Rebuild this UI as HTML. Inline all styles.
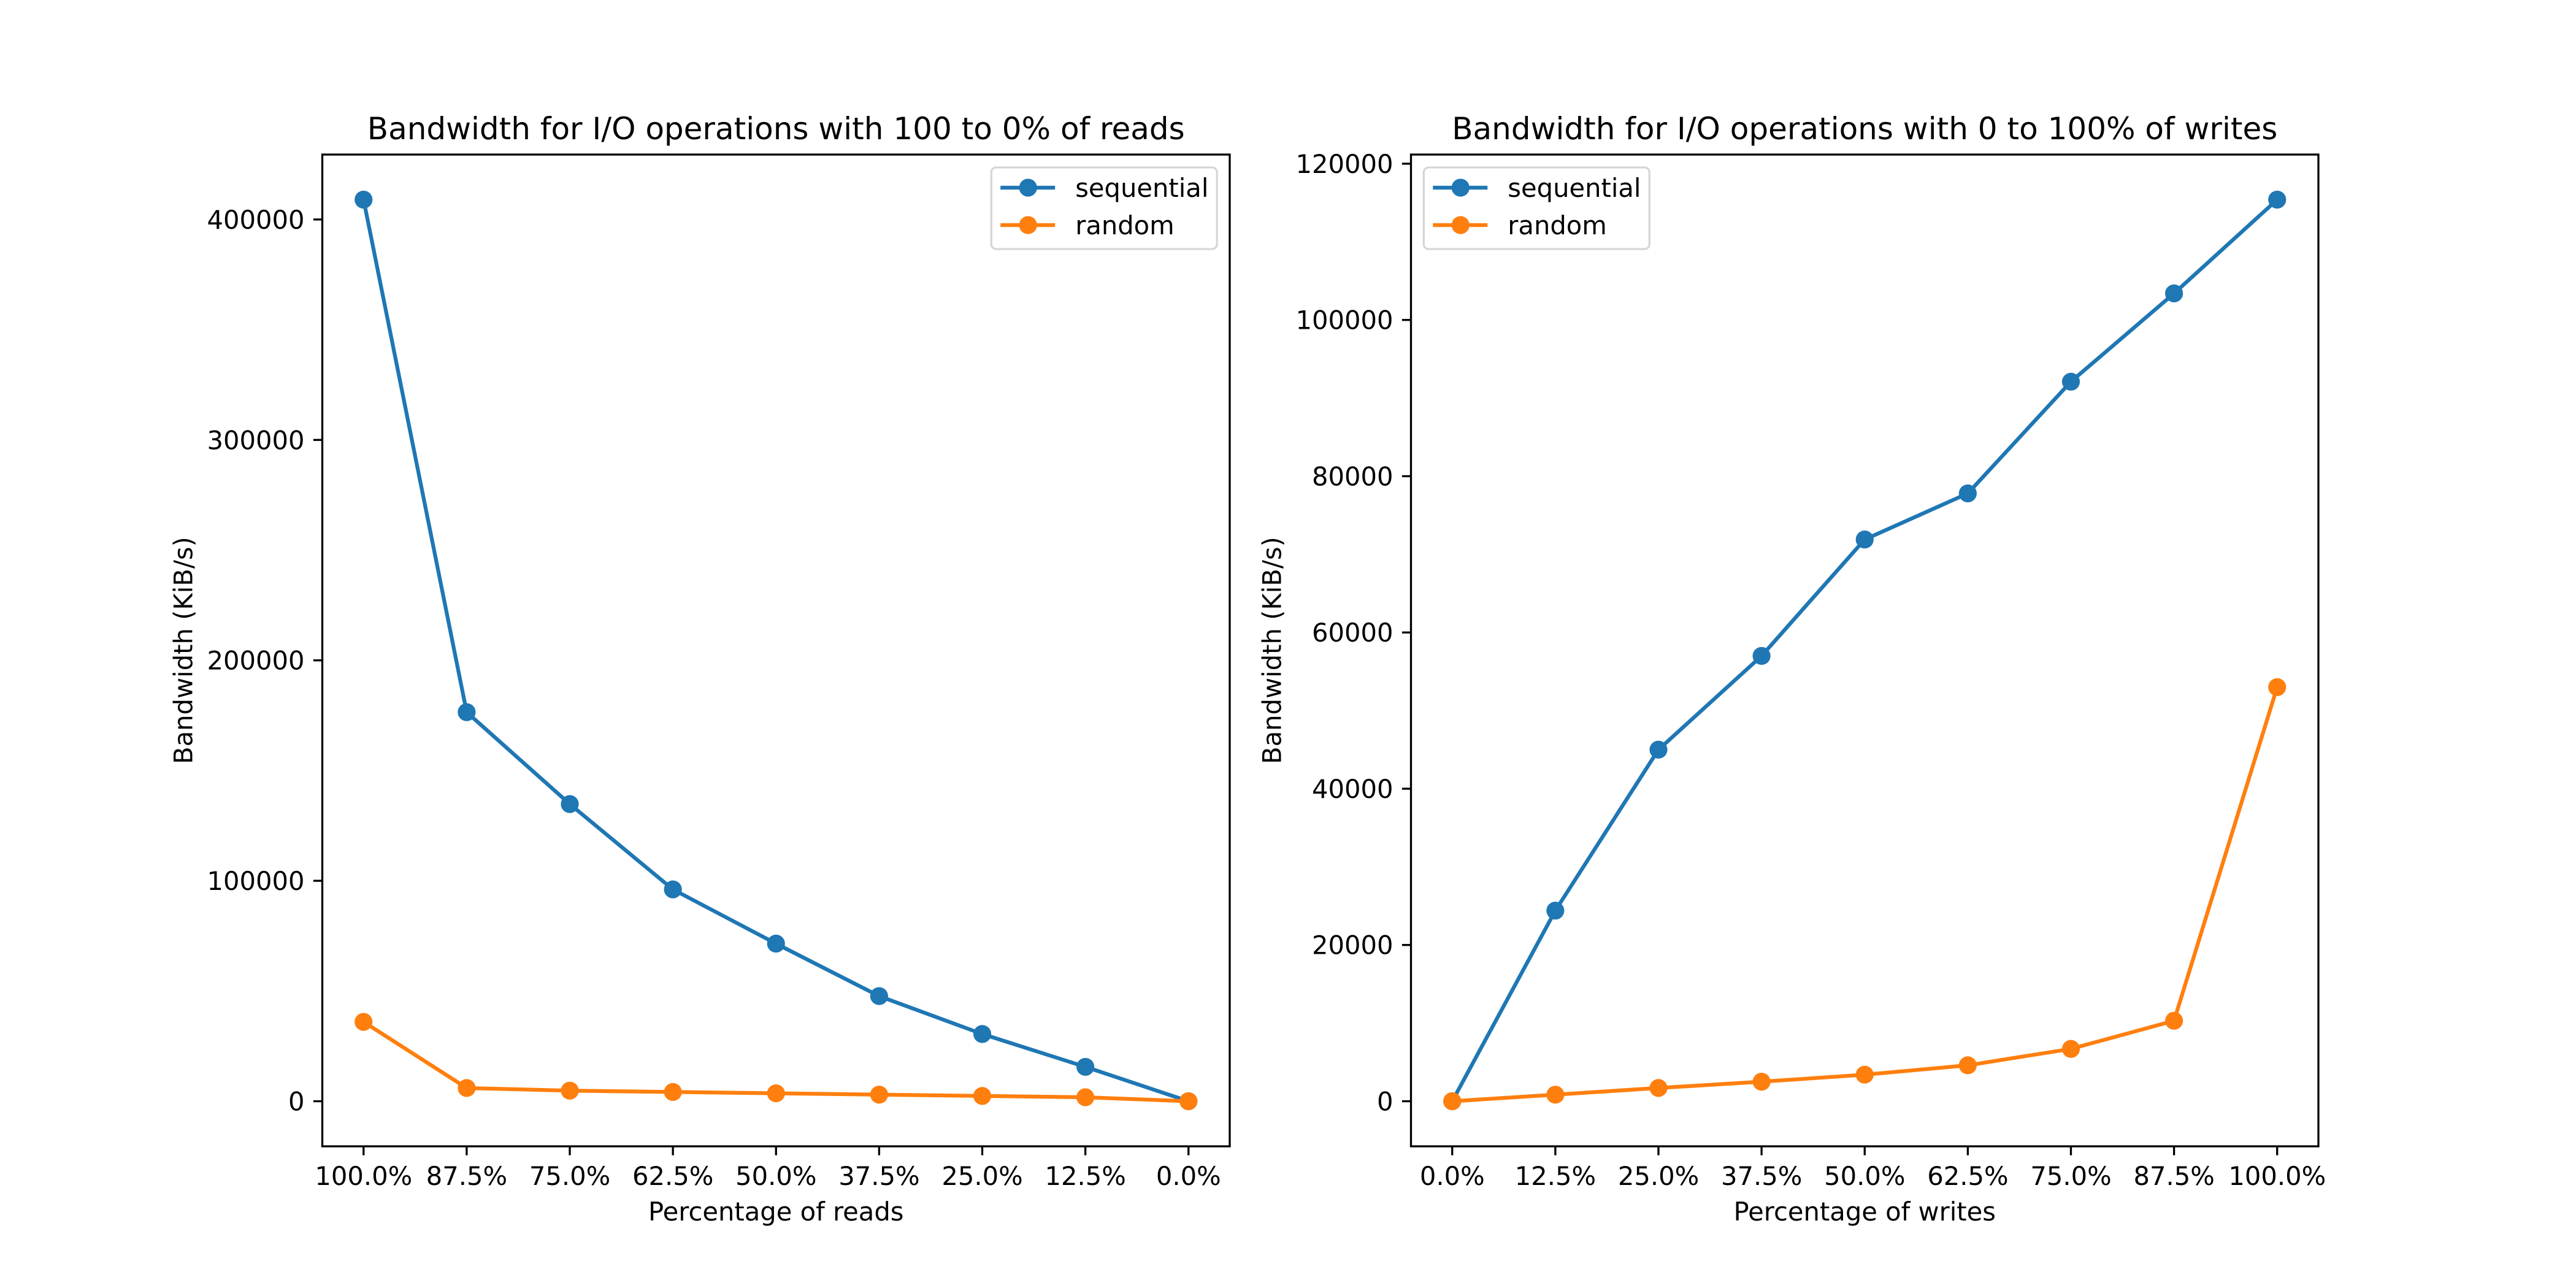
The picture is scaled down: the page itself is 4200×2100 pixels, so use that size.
<!DOCTYPE html>
<html><head><meta charset="utf-8"><style>
html,body{margin:0;padding:0;background:#fff;}
svg{display:block;font-family:"DejaVu Sans","Liberation Sans",sans-serif;}
</style></head><body>
<svg id="fig" width="4200" height="2100" viewBox="0 0 4200 2100" xmlns="http://www.w3.org/2000/svg">
<rect width="4200" height="2100" fill="#fff"/>
<g id="left"></g>
<g id="right"></g>
</svg>
<script>
const readCategories = ["100.0%","87.5%","75.0%","62.5%","50.0%","37.5%","25.0%","12.5%","0.0%"];
const readSequential = [409000,176500,134800,96100,71500,47700,30500,15600,0];
const readRandom = [36000,6000,4800,4200,3600,3000,2400,1800,0];
const readTicks = [0,100000,200000,300000,400000];
const writeCategories = ["0.0%","12.5%","25.0%","37.5%","50.0%","62.5%","75.0%","87.5%","100.0%"];
const writeSequential = [0,24400,45000,57000,71900,77800,92100,103400,115400];
const writeRandom = [0,840,1700,2500,3400,4600,6700,10300,53000];
const writeTicks = [0,20000,40000,60000,80000,100000,120000];

const NS="http://www.w3.org/2000/svg";
function mk(parent,tag,attrs,text){const e=document.createElementNS(NS,tag);for(const k in attrs)e.setAttribute(k,attrs[k]);if(text!==undefined)e.textContent=text;parent.appendChild(e);return e;}

function drawChart(g,x0,title,xlabel,cats,seq,rnd,ticks,legendLeft){
  const y0=252,w=1479.5,h=1617;
  const all=seq.concat(rnd);
  const mn=Math.min(...all),mx=Math.max(...all),rg=mx-mn;
  const lo=mn-0.05*rg,hi=mx+0.05*rg;
  const n=cats.length;
  const xs=i=>x0+(i-(-0.05*(n-1)))/((n-1)*1.1)*w;
  const ys=v=>y0+h-(v-lo)/(hi-lo)*h;
  let t=mk(g,'text',{x:x0+w/2,y:227,'text-anchor':'middle','font-size':50,fill:'#000'},title);
  
  
  // ticks
  cats.forEach((c,i)=>{
    const x=xs(i);
    const l=mk(g,'line',{x1:x,x2:x,y1:y0+h,y2:y0+h+14.6,stroke:'#000','stroke-width':3.3});
    
    
    const tl=mk(g,'text',{x:x,y:1932,'text-anchor':'middle','font-size':41.67,fill:'#000'},c);
    
    
  });
  ticks.forEach(v=>{
    const y=ys(v);
    const l=mk(g,'line',{x1:x0-14.6,x2:x0,y1:y,y2:y,stroke:'#000','stroke-width':3.3});
    
    
    const tl=mk(g,'text',{x:x0-29,y:y+15,'text-anchor':'end','font-size':41.67,fill:'#000'},String(v));
    
    
  });
  const xl=mk(g,'text',{x:x0+w/2,y:1990,'text-anchor':'middle','font-size':41.67,fill:'#000'},xlabel);
  
  
  const yl=mk(g,'text',{x:0,y:0,'text-anchor':'middle','font-size':41.67,fill:'#000',transform:`translate(${x0-212},${y0+h/2}) rotate(-90)`},'Bandwidth (KiB/s)');
  
  
  // series
  [[seq,'#1f77b4','sequential'],[rnd,'#ff7f0e','random']].forEach(([d,col,nm])=>{
    const p=mk(g,'polyline',{points:d.map((v,i)=>xs(i)+','+ys(v)).join(' '),fill:'none',stroke:col,'stroke-width':6.25,'stroke-linejoin':'round','stroke-linecap':'square'});
    
    
    d.forEach((v,i)=>{
      const c=mk(g,'circle',{cx:xs(i),cy:ys(v),r:14.6,fill:col});
      
      
    });
  });
  // frame
  const fr=mk(g,'rect',{x:x0,y:y0,width:w,height:h,fill:'none',stroke:'#000','stroke-width':3.3});
  
  
  // legend
  const lx=legendLeft?x0+20.8:x0+w-20.8-368;
  const lg=mk(g,'g',{});
  
  
  mk(lg,'rect',{x:lx,y:273,width:368,height:133,rx:8,fill:'#fff','fill-opacity':0.8,stroke:'#d6d6d6','stroke-width':3.3});
  [['sequential','#1f77b4',306],['random','#ff7f0e',367]].forEach(([nm,col,y])=>{
    const e=mk(lg,'g',{});
    
    
    mk(e,'line',{x1:lx+15,x2:lx+104,y1:y,y2:y,stroke:col,'stroke-width':6.25});
    mk(e,'circle',{cx:lx+60,cy:y,r:14.6,fill:col});
    mk(e,'text',{x:lx+137,y:y+15,'font-size':41.67,fill:'#000'},nm);
  });
}
drawChart(document.getElementById('left'),525.5,'Bandwidth for I/O operations with 100 to 0% of reads','Percentage of reads',readCategories,readSequential,readRandom,readTicks,false);
drawChart(document.getElementById('right'),2300.5,'Bandwidth for I/O operations with 0 to 100% of writes','Percentage of writes',writeCategories,writeSequential,writeRandom,writeTicks,true);
</script>
</body></html>
